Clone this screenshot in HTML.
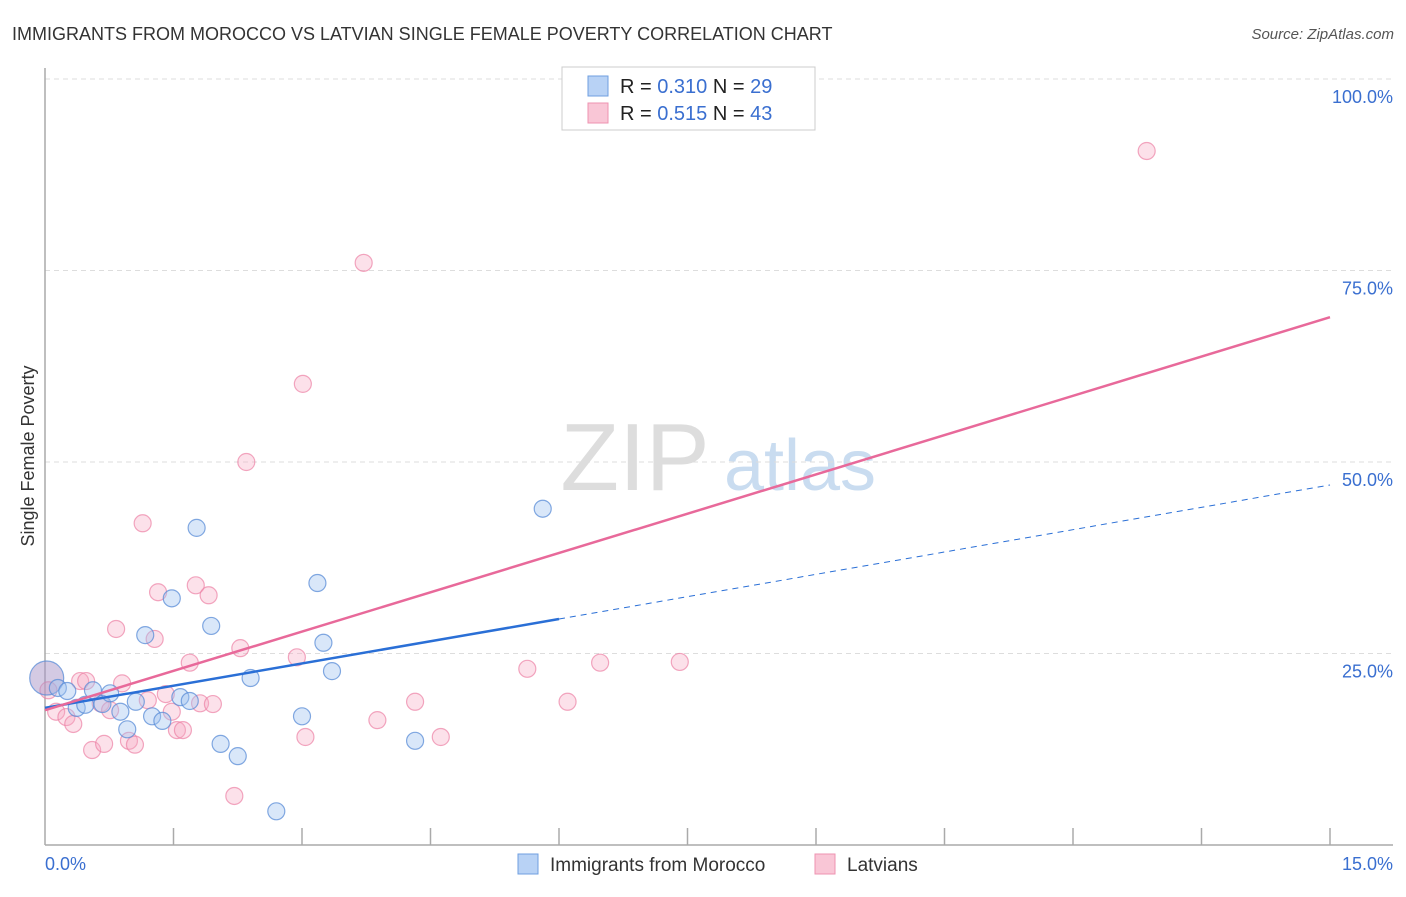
<!DOCTYPE html>
<html><head><meta charset="utf-8"><style>
body{margin:0;background:#fff;font-family:"Liberation Sans",sans-serif;}
svg text{font-family:"Liberation Sans",sans-serif;}
</style></head><body>
<svg id="chart" width="1406" height="892" viewBox="0 0 1406 892" xmlns="http://www.w3.org/2000/svg">
<text x="12" y="40" font-size="18" fill="#333">IMMIGRANTS FROM MOROCCO VS LATVIAN SINGLE FEMALE POVERTY CORRELATION CHART</text>
<text x="1394" y="39" font-size="15" fill="#555" font-style="italic" text-anchor="end">Source: ZipAtlas.com</text>
<text transform="translate(34,456) rotate(-90)" font-size="18" fill="#333" text-anchor="middle">Single Female Poverty</text>
<g>
<text x="635" y="490" font-size="96" fill="#ddd" font-family="Liberation Serif" text-anchor="middle">ZIP</text>
<text x="800" y="490" font-size="72" fill="#c9dcf0" text-anchor="middle">atlas</text>
</g>
<g id="grid"></g>
<g id="axes"></g>
<g id="points"></g>
<g id="lines"></g>
<g>
<rect x="562" y="67" width="253" height="63" fill="#fff" stroke="#ccc"/>
<rect x="588" y="76" width="20" height="20" fill="#b8d2f5" stroke="#6f9fe0"/>
<rect x="588" y="103" width="20" height="20" fill="#f9c6d6" stroke="#ee93b0"/>
<text x="620" y="93" font-size="20" fill="#222">R = <tspan fill="#3a6fd0">0.310</tspan>   N = <tspan fill="#3a6fd0">29</tspan></text>
<text x="620" y="120" font-size="20" fill="#222">R = <tspan fill="#3a6fd0">0.515</tspan>   N = <tspan fill="#3a6fd0">43</tspan></text>
</g>
<g>
<rect x="518" y="854" width="20" height="20" fill="#b8d2f5" stroke="#6f9fe0"/>
<text x="550" y="871" font-size="19" fill="#333">Immigrants from Morocco</text>
<rect x="815" y="854" width="20" height="20" fill="#f9c6d6" stroke="#ee93b0"/>
<text x="847" y="871" font-size="19" fill="#333">Latvians</text>
</g>
</svg>
<script>
const blueX=[0.02,0.15,0.26,0.37,0.47,0.56,0.67,0.76,0.88,0.96,1.06,1.17,1.25,1.37,1.48,1.58,1.69,1.77,1.94,2.05,2.25,2.40,2.70,3.00,3.18,3.25,3.35,4.32,5.81];
const blueY=[21.8,20.5,20.1,17.9,18.3,20.2,18.4,19.8,17.4,15.1,18.7,27.4,16.8,16.2,32.2,19.3,18.8,41.4,28.6,13.2,11.6,21.8,4.4,16.8,34.2,26.4,22.7,13.6,43.9];
const pinkX=[0.04,0.13,0.25,0.33,0.41,0.48,0.55,0.65,0.69,0.76,0.83,0.90,0.98,1.05,1.14,1.20,1.28,1.32,1.41,1.48,1.54,1.61,1.69,1.76,1.81,1.91,1.96,2.21,2.28,2.35,2.94,3.01,3.04,3.72,3.88,4.32,4.62,5.63,6.10,6.48,7.41,12.86];
const pinkY=[20.2,17.4,16.7,15.8,21.4,21.4,12.4,18.5,13.2,17.6,28.2,21.1,13.6,13.1,42.0,18.9,26.9,33.0,19.7,17.4,15.0,15.0,23.8,33.9,18.5,32.6,18.4,6.4,25.7,50.0,24.5,60.2,14.1,76.0,16.3,18.7,14.1,23.0,18.7,23.8,23.9,90.6];
const blueLine=[17.9,29.5,47.0]; // at x=0, 6, 15
const pinkLine=[17.6,68.9]; // at x=0, 15
const yTicks=[25,50,75,100];
const yTickLabels=["25.0%","50.0%","75.0%","100.0%"];
const xTickCount=10;
const xs=v=>45+v/15*1285;
const ys=v=>845-v/100*766;
const NS="http://www.w3.org/2000/svg";
function mk(tag,attrs,parent){const e=document.createElementNS(NS,tag);for(const k in attrs)e.setAttribute(k,attrs[k]);parent.appendChild(e);return e;}
const grid=document.getElementById('grid'),axes=document.getElementById('axes'),pts=document.getElementById('points'),lines=document.getElementById('lines');
yTicks.forEach((t,i)=>{
 const l=mk('line',{x1:45,x2:1393,y1:ys(t),y2:ys(t),stroke:'#ddd','stroke-dasharray':'5,4'},grid);
 
 
 const tx=mk('text',{x:1393,y:ys(t)+24,'font-size':18,fill:'#3a6fd0','text-anchor':'end'},axes);
 tx.textContent=yTickLabels[i];
 
 
});
const ya=mk('line',{x1:45,x2:45,y1:68,y2:845,stroke:'#aaa','stroke-width':1.5},axes);


const xa=mk('line',{x1:45,x2:1393,y1:845,y2:845,stroke:'#aaa','stroke-width':1.5},axes);


for(let i=1;i<=xTickCount;i++){
 const x=xs(i*15/xTickCount);
 const t=mk('line',{x1:x,x2:x,y1:828,y2:845,stroke:'#aaa','stroke-width':1.5},axes);
 
 
}
const xl0=mk('text',{x:45,y:870,'font-size':18,fill:'#3a6fd0'},axes);xl0.textContent='0.0%';


const xl1=mk('text',{x:1393,y:870,'font-size':18,fill:'#3a6fd0','text-anchor':'end'},axes);xl1.textContent='15.0%';


pinkX.forEach((x,i)=>{
 const c=mk('circle',{cx:xs(x),cy:ys(pinkY[i]),r:8.5,fill:'rgba(246,170,195,0.35)',stroke:'rgba(236,130,165,0.7)','stroke-width':1.2},pts);
 
 
});
blueX.forEach((x,i)=>{
 const c=mk('circle',{cx:xs(x),cy:ys(blueY[i]),r:i===0?17:8.5,fill:i===0?'rgba(170,150,200,0.5)':'rgba(160,195,240,0.4)',stroke:'rgba(90,140,215,0.75)','stroke-width':1.2},pts);
 
 
});
const bl=mk('line',{x1:xs(0),y1:ys(blueLine[0]),x2:xs(6),y2:ys(blueLine[1]),stroke:'#2a6fd6','stroke-width':2.5},lines);


const bd=mk('line',{x1:xs(6),y1:ys(blueLine[1]),x2:xs(15),y2:ys(blueLine[2]),stroke:'#2a6fd6','stroke-width':1,'stroke-dasharray':'6,5'},lines);


const pl=mk('line',{x1:xs(0),y1:ys(pinkLine[0]),x2:xs(15),y2:ys(pinkLine[1]),stroke:'#e8699a','stroke-width':2.5},lines);


</script>
</body></html>
